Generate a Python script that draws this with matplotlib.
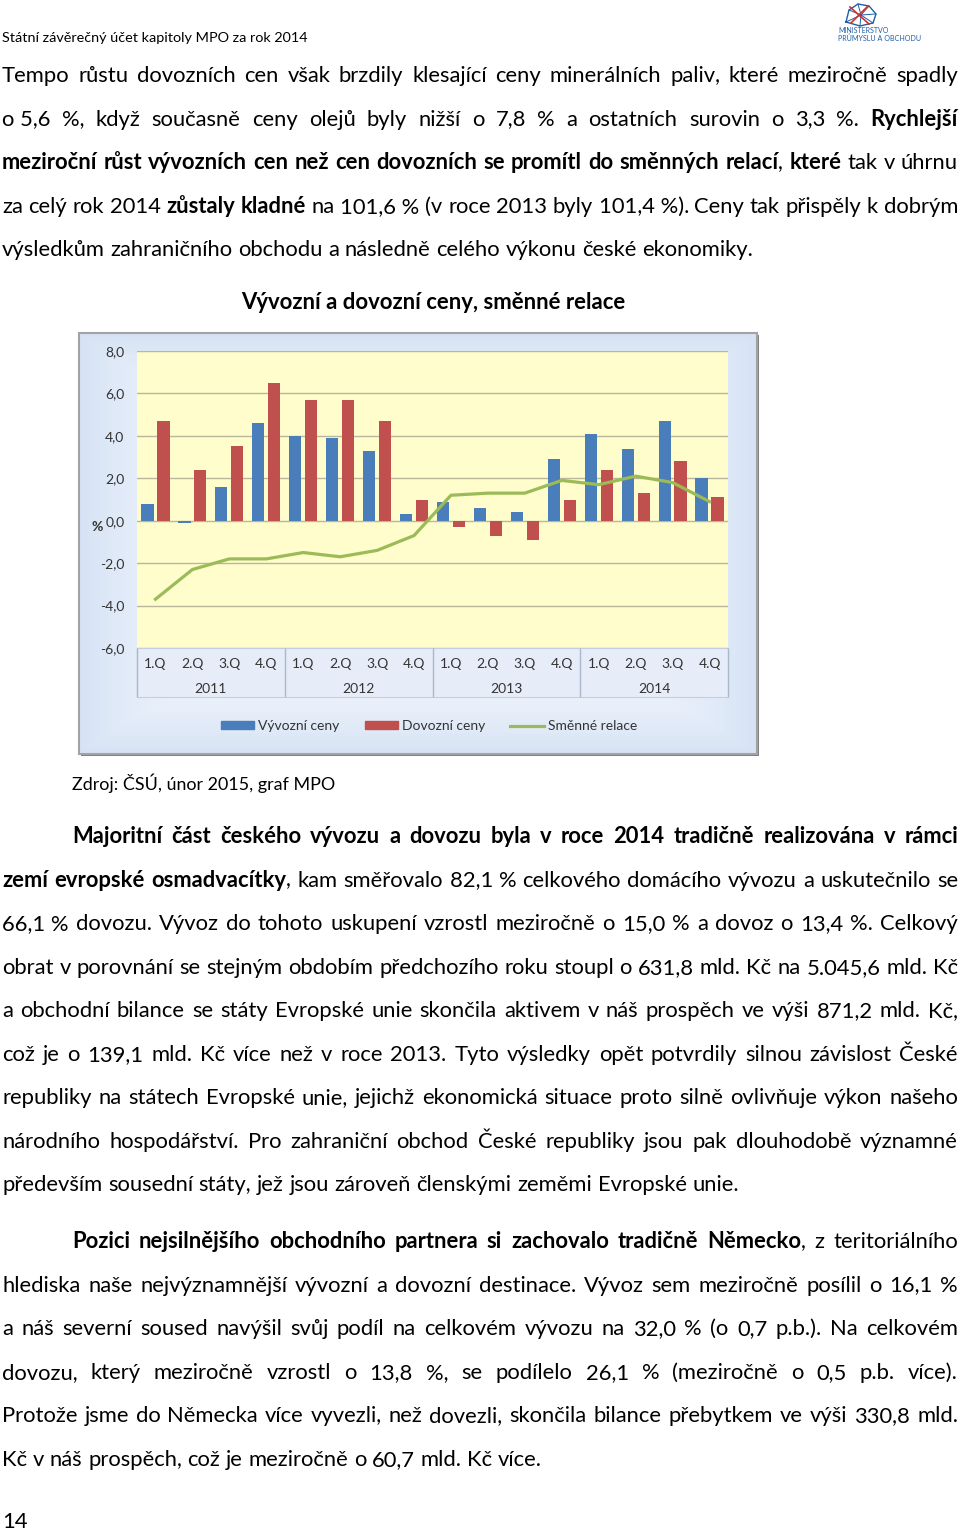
import numpy as np
import matplotlib
matplotlib.use("Agg")
import matplotlib.pyplot as plt
from matplotlib.patches import Rectangle, Patch
from matplotlib.lines import Line2D
from matplotlib.transforms import blended_transform_factory

FONT = ["Lato", "DejaVu Sans"]

# chart data (% y/y)
quarters = ["1.Q", "2.Q", "3.Q", "4.Q"] * 4
years = ["2011", "2012", "2013", "2014"]
export_prices = [0.8, -0.1, 1.6, 4.6, 4.0, 3.9, 3.3, 0.3, 0.9, 0.6, 0.4, 2.9, 4.1, 3.4, 4.7, 2.0]
import_prices = [4.7, 2.4, 3.5, 6.5, 5.7, 5.7, 4.7, 1.0, -0.3, -0.7, -0.9, 1.0, 2.4, 1.3, 2.8, 1.1]
terms_of_trade = [-3.7, -2.3, -1.8, -1.8, -1.5, -1.7, -1.4, -0.7, 1.2, 1.3, 1.3, 1.9, 1.7, 2.1, 1.8, 0.9]
y_ticks = [-6, -4, -2, 0, 2, 4, 6, 8]
y_tick_labels = ["-6,0", "-4,0", "-2,0", "0,0", "2,0", "4,0", "6,0", "8,0"]
series_names = ["Vývozní ceny", "Dovozní ceny", "Směnné relace"]

header = "Státní závěrečný účet kapitoly MPO za rok 2014"
chart_title = "Vývozní a dovozní ceny, směnné relace"
source = "Zdroj: ČSÚ, únor 2015, graf MPO"

para1 = [
    [("Tempo růstu dovozních cen však brzdily klesající ceny minerálních paliv, které meziročně spadly", False)],
    [("o\u00a05,6 %, když současně ceny olejů byly nižší o 7,8 % a ostatních surovin o 3,3 %. ", False), ("Rychlejší", True)],
    [("meziroční růst vývozních cen než cen dovozních se promítl do směnných relací", True), (",", False),
     (" které", True), (" tak v úhrnu", False)],
    [("za celý rok 2014 ", False), ("zůstaly kladné", True),
     (" na 101,6\u00a0% (v roce 2013 byly 101,4\u00a0%). Ceny tak přispěly k dobrým", False)],
    [("výsledkům zahraničního obchodu a následně celého výkonu české ekonomiky.", False)],
]
para2 = [
    [("Majoritní část českého vývozu a dovozu byla v roce 2014 tradičně realizována v rámci", True)],
    [("zemí evropské osmadvacítky", True), (", kam směřovalo 82,1\u00a0% celkového domácího vývozu a uskutečnilo se", False)],
    [("66,1\u00a0% dovozu. Vývoz do tohoto uskupení vzrostl meziročně o 15,0 % a dovoz o 13,4 %. Celkový", False)],
    [("obrat v porovnání se stejným obdobím předchozího roku stoupl o 631,8 mld. Kč na 5.045,6 mld. Kč", False)],
    [("a obchodní bilance se státy Evropské unie skončila aktivem v náš prospěch ve výši 871,2 mld. Kč,", False)],
    [("což je o 139,1 mld. Kč více než v roce 2013. Tyto výsledky opět potvrdily silnou závislost České", False)],
    [("republiky na státech Evropské unie, jejichž ekonomická situace proto silně ovlivňuje výkon našeho", False)],
    [("národního hospodářství. Pro zahraniční obchod České republiky jsou pak dlouhodobě významné", False)],
    [("především sousední státy, jež jsou zároveň členskými zeměmi Evropské unie.", False)],
]
para3 = [
    [("Pozici nejsilnějšího obchodního partnera si zachovalo tradičně Německo", True), (", z teritoriálního", False)],
    [("hlediska naše nejvýznamnější vývozní a dovozní destinace. Vývoz sem meziročně posílil o 16,1 %", False)],
    [("a náš severní soused navýšil svůj podíl na celkovém vývozu na 32,0 % (o 0,7 p.b.). Na celkovém", False)],
    [("dovozu, který meziročně vzrostl o 13,8 %, se podílelo 26,1 % (meziročně o 0,5 p.b. více).", False)],
    [("Protože jsme do Německa více vyvezli, než dovezli, skončila bilance přebytkem ve výši 330,8 mld.", False)],
    [("Kč v náš prospěch, což je meziročně o 60,7 mld. Kč více.", False)],
]

fig = plt.figure(figsize=(9.6, 15.32), dpi=100, facecolor="white")
ax0 = fig.add_axes([0, 0, 1, 1])
ax0.set_xlim(0, 960)
ax0.set_ylim(1532, 0)
ax0.axis("off")
renderer = fig.canvas.get_renderer()


def text_width(s, size, bold=False):
    t = ax0.text(0, 0, s, fontsize=size, family=FONT, fontweight="bold" if bold else "normal")
    w = t.get_window_extent(renderer=renderer).width
    t.remove()
    return w


def fit(s, target, bold=False):
    return 10 * target / text_width(s, 10, bold)


def words_of(runs):
    words = [[]]
    for txt, b in runs:
        for k, p in enumerate(txt.split(" ")):
            if k > 0:
                words.append([])
            if p:
                words[-1].append((p, b))
    return [w for w in words if w]


body = fit(para1[-1][0][0], 755)
space_w = text_width("a a", body) - text_width("aa", body)


def draw_line(runs, x0, x1, y, justify):
    words = words_of(runs)
    widths = [[text_width(p, body, b) for p, b in w] for w in words]
    total = sum(sum(ws) for ws in widths)
    gap = (x1 - x0 - total) / (len(words) - 1) if justify and len(words) > 1 else space_w
    x = x0
    for w, ws in zip(words, widths):
        xx = x
        for (p, b), pw in zip(w, ws):
            ax0.text(xx, y, p, fontsize=body, family=FONT, va="baseline",
                     fontweight="bold" if b else "normal", color="black")
            xx += pw
        x += sum(ws) + gap


def draw_para(lines, y0, indent, step=43.55):
    for i, runs in enumerate(lines):
        x0 = 72 if (indent and i == 0) else 2
        draw_line(runs, x0, 958, y0 + i * step, i < len(lines) - 1)


# page header + logo
ax0.text(2, 42, header, fontsize=fit(header, 306), family=FONT, va="baseline")
logo_blue = "#1f5fa8"
ring = [(846, 22), (849, 10), (858, 4), (869, 6), (876, 14), (873, 23), (860, 26), (846, 22)]
ax0.plot(*zip(*ring), color=logo_blue, lw=1)
for p in ring[:-1]:
    ax0.plot([p[0], 861], [p[1], 15], color=logo_blue, lw=0.7)
ax0.plot([850, 869], [7, 24], color="#d0312d", lw=1.2)
ax0.plot([868, 851], [6, 23], color="#d0312d", lw=1.2)
ax0.text(838, 33, "MINISTERSTVO", fontsize=fit("MINISTERSTVO", 50), family=FONT, color=logo_blue, va="baseline")
ax0.text(838, 41, "PRŮMYSLU A OBCHODU", fontsize=fit("PRŮMYSLU A OBCHODU", 83), family=FONT,
         color=logo_blue, va="baseline")

draw_para(para1, 82, False)
ax0.text(433, 309, chart_title, fontsize=fit(chart_title, 384, True), family=FONT,
         fontweight="bold", ha="center", va="baseline")

# chart frame
ax0.add_patch(Rectangle((81, 335), 678, 421, fc="#808080", ec="none"))
gx, gy = np.meshgrid(np.linspace(-1, 1, 200), np.linspace(-1, 1, 120))
wgt = np.clip(np.maximum(np.abs(gx), np.abs(gy)) ** 3, 0, 1)[..., None]
grad = (1 - wgt) * np.array([0.97, 0.98, 1.0]) + wgt * np.array([0.84, 0.89, 0.96])
ax0.imshow(grad, extent=[79, 757, 754, 333], aspect="auto", zorder=1)
ax0.add_patch(Rectangle((79, 333), 678, 421, fc="none", ec="#a3a3a3", lw=1.5, zorder=2))
ax0.add_patch(Rectangle((137, 648), 591, 49, fc="#e6edf8", ec="#c3cfe0", lw=0.8, zorder=2))
ax0.set_xlim(0, 960)
ax0.set_ylim(1532, 0)

ax0.text(72, 790, source, fontsize=fit(source, 262), family=FONT, va="baseline")
draw_para(para2, 843, True)
draw_para(para3, 1248, True)
ax0.text(2, 1528, "14", fontsize=body, family=FONT, va="baseline")

# the chart itself
ax = fig.add_axes([137 / 960, 1 - 648 / 1532, 591 / 960, 297 / 1532])
ax.set_facecolor("#fffdcc")
x = np.arange(len(quarters))
ax.bar(x - 0.215, export_prices, width=0.33, color="#4a7ebb", zorder=2)
ax.bar(x + 0.215, import_prices, width=0.33, color="#c0504d", zorder=2)
ax.plot(x, terms_of_trade, color="#9bbb59", lw=2.3, zorder=3)
ax.set_xlim(-0.5, len(quarters) - 0.5)
ax.set_ylim(-6, 8)
ax.set_yticks(y_ticks, y_tick_labels)
ax.set_xticks(x, quarters)
ax.yaxis.grid(True, color="#b9b89c", lw=1)
ax.set_axisbelow(True)
for s in ax.spines.values():
    s.set_visible(False)
ax.tick_params(axis="y", length=0, pad=9, labelsize=10, labelcolor="#333333")
ax.tick_params(axis="x", length=0, pad=7, labelsize=10, labelcolor="#333333")
for lab in ax.get_xticklabels() + ax.get_yticklabels():
    lab.set_family(FONT)

trans = blended_transform_factory(ax.transData, ax.transAxes)
ax.vlines(np.arange(-0.5, len(quarters), 4), -0.165, 0, transform=trans, clip_on=False,
          color="#aab8cc", lw=1)
for i, yr in enumerate(years):
    ax.text(i * 4 + 1.5, -0.137, yr, transform=trans, ha="center", va="center",
            fontsize=10, family=FONT, color="#333333")
ax.text(-0.068, -0.3, "%", transform=blended_transform_factory(ax.transAxes, ax.transData),
        ha="center", va="center", fontsize=10, family=FONT, fontweight="bold", color="#333333")

handles = [Patch(color="#4a7ebb"), Patch(color="#c0504d"), Line2D([], [], color="#9bbb59", lw=2.3)]
fig.legend(handles, series_names, loc="center", bbox_to_anchor=(429 / 960, 1 - 726 / 1532), ncol=3,
           frameon=False, prop={"family": FONT, "size": 10}, handlelength=2.4, handleheight=0.5,
           handletextpad=0.3, columnspacing=1.8, labelcolor="#333333")

fig.savefig("out.png", dpi=100, facecolor="white")
